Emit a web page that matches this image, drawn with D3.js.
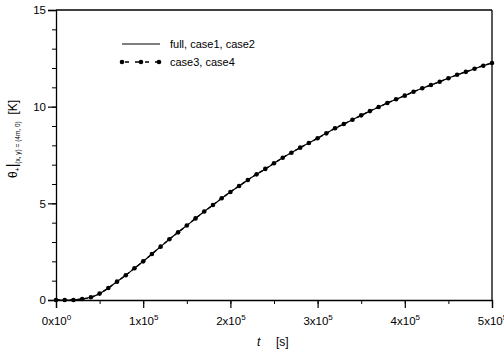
<!DOCTYPE html>
<html>
<head>
<meta charset="utf-8">
<script src="https://cdn.jsdelivr.net/npm/d3@7"></script>
<style>
  body { margin: 0; background: #fff; }
  svg { font-family: "Liberation Sans", Arial, sans-serif; }
</style>
</head>
<body>
<div id="chart"></div>
<script>
// time in seconds, sampled every 1e4 s
const times = d3.range(0, 510000, 10000);
// temperature rise [K]
const theta = [
  0, 0, 0, 0.05, 0.14, 0.33, 0.62, 0.95, 1.28, 1.64,
  2.0, 2.38, 2.76, 3.14, 3.5, 3.85, 4.22, 4.58, 4.91, 5.26,
  5.59, 5.9, 6.21, 6.5, 6.78, 7.07, 7.36, 7.62, 7.88, 8.12,
  8.37, 8.62, 8.88, 9.1, 9.32, 9.55, 9.77, 9.98, 10.19, 10.38,
  10.57, 10.77, 10.95, 11.12, 11.29, 11.47, 11.65, 11.8, 11.96, 12.12,
  12.26
];
const xTicks = [0, 1e5, 2e5, 3e5, 4e5, 5e5];
const xTickLabels = [["0x10", "0"], ["1x10", "5"], ["2x10", "5"], ["3x10", "5"], ["4x10", "5"], ["5x10", "5"]];
const yTicks = [0, 5, 10, 15];
const legendNames = ["full, case1, case2", "case3, case4"];

const data = times.map((t, i) => ({t: t, v: theta[i]}));

const width = 504;
const height = 351;
const margin = {top: 10, right: 12, bottom: 51, left: 56};

const svg = d3.select('#chart').append('svg')
  .attr('width', width)
  .attr('height', height);

const x = d3.scaleLinear()
  .domain([0, 5e5])
  .range([margin.left, width - margin.right]);

const y = d3.scaleLinear()
  .domain([0, 15])
  .range([height - margin.bottom, margin.top]);

// minor ticks
const xAxisMinor = d3.axisBottom(x).tickValues(d3.range(0, 5e5 + 1, 5e4)).tickSize(4).tickFormat('');
const yAxisMinor = d3.axisLeft(y).tickValues(d3.range(0, 16, 1)).tickSize(4).tickFormat('');

svg.append('g')
  .attr('transform', `translate(0, ${y(0)})`)
  .call(xAxisMinor)
  .call(g => g.select('.domain').remove());

svg.append('g')
  .attr('transform', `translate(${x(0)}, 0)`)
  .call(yAxisMinor)
  .call(g => g.select('.domain').remove());

// major axes
const xAxis = d3.axisBottom(x).tickValues(xTicks).tickSize(8).tickPadding(6).tickFormat('');
const xAxisG = svg.append('g')
  .attr('transform', `translate(0, ${y(0)})`)
  .call(xAxis);
xAxisG.selectAll('.domain').attr('stroke-width', 1.3);
xAxisG.selectAll('.tick line').attr('stroke-width', 1.2);

xAxisG.selectAll('.tick').append('text')
  .attr('fill', '#000')
  .attr('y', 25)
  .attr('text-anchor', 'middle')
  .style('font-size', '11.5px')
  .each(function(d, i) {
    const txt = d3.select(this);
    txt.append('tspan').text(xTickLabels[i][0]);
    txt.append('tspan')
      .attr('dy', -5)
      .style('font-size', '8px')
      .text(xTickLabels[i][1]);
  });

const yAxis = d3.axisLeft(y).tickValues(yTicks).tickSize(8).tickPadding(2);
const yAxisG = svg.append('g')
  .attr('transform', `translate(${x(0)}, 0)`)
  .call(yAxis);
yAxisG.selectAll('.domain').attr('stroke-width', 1.3);
yAxisG.selectAll('.tick line').attr('stroke-width', 1.2);
yAxisG.selectAll('.tick text')
  .style('font-size', '11.5px')
  .attr('fill', '#000');

// frame top / right
svg.append('line')
  .attr('x1', x(0)).attr('x2', x(5e5))
  .attr('y1', y(15)).attr('y2', y(15))
  .attr('stroke', '#000').attr('stroke-width', 1.3);
svg.append('line')
  .attr('x1', x(5e5)).attr('x2', x(5e5))
  .attr('y1', y(15)).attr('y2', y(0))
  .attr('stroke', '#000').attr('stroke-width', 1.3);

// curves
const line = d3.line()
  .x(d => x(d.t))
  .y(d => y(d.v))
  .curve(d3.curveMonotoneX);

svg.append('path')
  .datum(data)
  .attr('d', line)
  .attr('fill', 'none')
  .attr('stroke', '#000')
  .attr('stroke-width', 1.2);

svg.append('path')
  .datum(data)
  .attr('d', line)
  .attr('fill', 'none')
  .attr('stroke', '#000')
  .attr('stroke-width', 1.4)
  .attr('stroke-dasharray', '4,3');

svg.append('g')
  .selectAll('circle')
  .data(data)
  .enter().append('circle')
  .attr('cx', d => x(d.t))
  .attr('cy', d => y(d.v))
  .attr('r', 2.3)
  .attr('fill', '#000');

// legend
const legend = svg.append('g').attr('class', 'legend');
const lx = 122;
const ly = 44;

legend.append('line')
  .attr('x1', lx).attr('x2', lx + 38)
  .attr('y1', ly).attr('y2', ly)
  .attr('stroke', '#000').attr('stroke-width', 1.2);

legend.append('line')
  .attr('x1', lx).attr('x2', lx + 38)
  .attr('y1', ly + 18).attr('y2', ly + 18)
  .attr('stroke', '#000').attr('stroke-width', 1.4)
  .attr('stroke-dasharray', '4,6')
  .attr('stroke-dashoffset', -3);

legend.selectAll('circle')
  .data([0, 19, 37])
  .enter().append('circle')
  .attr('cx', d => lx + d)
  .attr('cy', ly + 18)
  .attr('r', 2.3)
  .attr('fill', '#000');

legend.selectAll('text')
  .data(legendNames)
  .enter().append('text')
  .attr('x', lx + 48)
  .attr('y', (d, i) => ly + 4 + i * 18)
  .style('font-size', '11px')
  .text(d => d);

// axis titles
svg.append('text')
  .attr('x', 257)
  .attr('y', 346)
  .style('font-size', '12px')
  .style('font-style', 'italic')
  .text('t');

svg.append('text')
  .attr('x', 276)
  .attr('y', 346)
  .style('font-size', '12px')
  .text('[s]');

const yTitle = svg.append('text')
  .attr('transform', 'translate(17, 139) rotate(-90)')
  .attr('text-anchor', 'middle')
  .style('font-size', '12px');
yTitle.append('tspan').text('θ');
yTitle.append('tspan').attr('dy', 3).style('font-size', '7px').text('+');
yTitle.append('tspan').attr('dy', -3).style('font-size', '14px').text('|');
yTitle.append('tspan').attr('dy', 3).style('font-size', '6.5px').text('(x, y) = (4m, 0)');
yTitle.append('tspan').attr('dy', -3).text('\u00a0\u00a0[K]');
</script>
</body>
</html>
